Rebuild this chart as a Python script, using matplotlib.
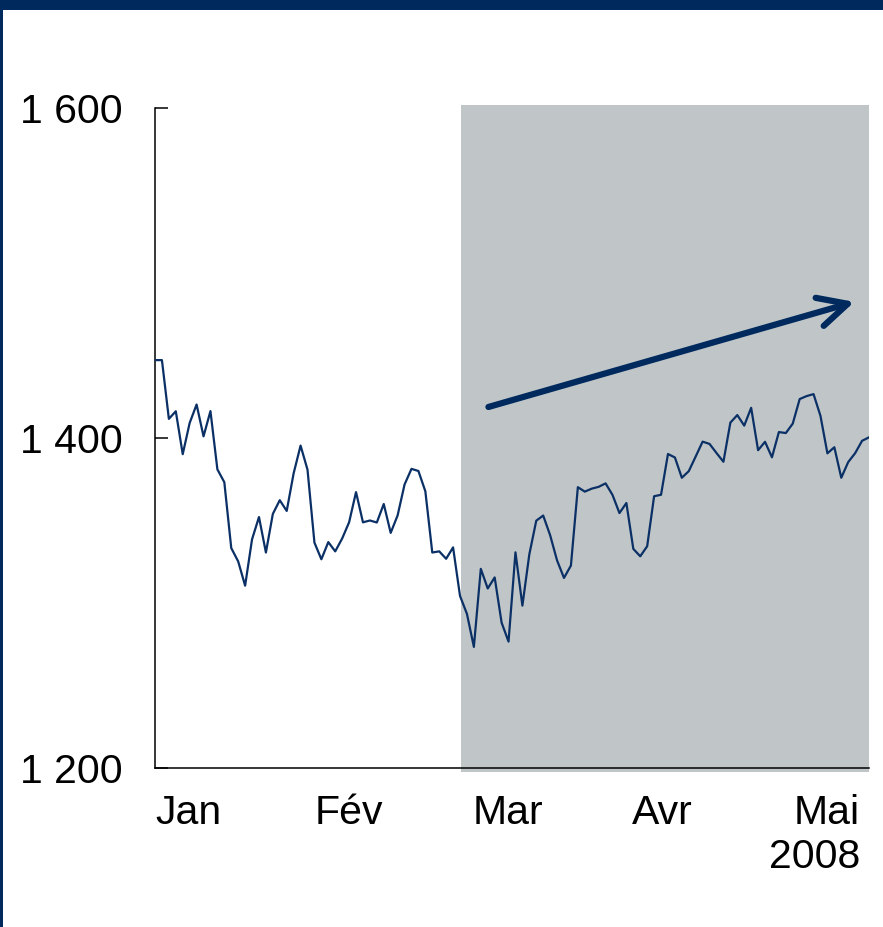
import matplotlib
matplotlib.use("Agg")
import matplotlib.pyplot as plt
from matplotlib.patches import Rectangle

# Indice boursier, clôtures quotidiennes janv.-mai 2008 (une valeur par séance)
closes = [
    1447.2, 1447.2, 1411.6, 1416.2, 1390.2, 1409.1, 1420.3, 1401.0, 1416.3, 1381.0,
    1373.2, 1333.3, 1325.2, 1310.5, 1338.6, 1352.1, 1330.6, 1354.0, 1362.3, 1355.8,
    1378.6, 1395.4, 1380.8, 1336.6, 1326.5, 1336.9, 1331.3, 1339.1, 1348.9, 1367.2,
    1348.9, 1350.0, 1348.8, 1360.0, 1342.5, 1353.1, 1371.8, 1381.3, 1380.0, 1367.7,
    1330.6, 1331.3, 1326.8, 1333.7, 1304.3, 1293.4, 1273.4, 1320.7, 1308.8, 1315.5,
    1288.1, 1276.6, 1330.7, 1298.4, 1329.5, 1349.9, 1353.0, 1341.1, 1325.8, 1315.2,
    1322.7, 1370.2, 1367.5, 1369.3, 1370.4, 1372.5, 1365.5, 1354.5, 1360.6, 1332.8,
    1328.3, 1334.4, 1364.7, 1365.6, 1390.3, 1388.2, 1375.9, 1379.9, 1388.8, 1397.8,
    1396.4, 1390.9, 1385.6, 1409.3, 1413.9, 1407.5, 1418.3, 1392.6, 1397.7, 1388.3,
    1403.6, 1403.0, 1408.7, 1423.6, 1425.4, 1426.6, 1413.4, 1390.7, 1394.4, 1375.9,
    1385.4, 1390.8, 1398.3, 1400.4,
]
month_labels = ["Jan", "Fév", "Mar", "Avr", "Mai\n2008"]
month_pos = [4.8, 27.9, 50.9, 73.2, 101.7]
y_ticks = [1200, 1400, 1600]
y_labels = ["1 200", "1 400", "1 600"]

# zone grisée (reprise) et flèche de tendance
shade_start = 44.2
arrow_from = (48.1, 1418.8)
arrow_to = (100.9, 1482.5)

NAVY = "#002A5E"
LINE = "#0B3066"
GREY = "#C0C6C8"

plt.rcParams['font.family'] = ['Liberation Sans', 'DejaVu Sans']

fig = plt.figure(figsize=(8.83, 9.27), dpi=100)
ax = fig.add_axes([155 / 883, 1 - 768 / 927, 714 / 883, 660 / 927])

x = list(range(len(closes)))

# fond gris
ax.add_patch(Rectangle((shade_start, 1197.5), len(closes) - 1 - shade_start, 404.5,
                       facecolor=GREY, edgecolor="none", clip_on=False, zorder=0))

ax.plot(x, closes, color=LINE, lw=1.6, zorder=3)

ax.annotate("", xy=arrow_to, xytext=arrow_from,
            arrowprops=dict(arrowstyle="->,head_length=0.7,head_width=0.35",
                            lw=4.5, color=NAVY, mutation_scale=30,
                            capstyle="round", joinstyle="round",
                            shrinkA=0, shrinkB=0),
            zorder=4)

ax.set_xlim(0, len(closes) - 1)
ax.set_ylim(1200, 1600)

ax.spines['top'].set_visible(False)
ax.spines['right'].set_visible(False)
ax.spines['left'].set_linewidth(1.1)
ax.spines['bottom'].set_linewidth(1.1)

ax.set_yticks(y_ticks)
ax.set_yticklabels(y_labels)
ax.tick_params(axis='y', direction='in', length=9, width=1.1, pad=23, labelsize=29.5)

ax.set_xticks(month_pos)
ax.set_xticklabels(month_labels)
ax.tick_params(axis='x', length=0, pad=19, labelsize=29.5)
last = ax.get_xticklabels()[-1]
last.set_ha('right')
last.set_multialignment('right')

ax.set_facecolor("none")

# cadre : bandeau bleu en haut, filet à gauche
fig.patches.append(Rectangle((0, 1 - 10 / 927), 1, 10 / 927, transform=fig.transFigure,
                             facecolor=NAVY, edgecolor="none"))
fig.patches.append(Rectangle((0, 0), 2.5 / 883, 1, transform=fig.transFigure,
                             facecolor=NAVY, edgecolor="none"))

fig.savefig("out.png", dpi=100)
